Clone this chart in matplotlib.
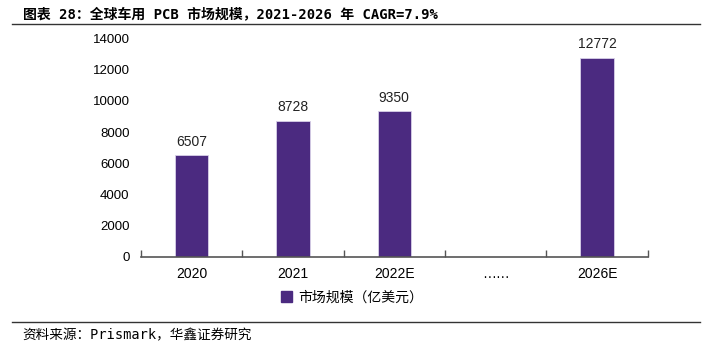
import matplotlib
matplotlib.use("Agg")
import matplotlib.pyplot as plt
from matplotlib.lines import Line2D
from matplotlib.patches import Patch

plt.rcParams['font.family'] = ['Liberation Sans', 'Noto Sans CJK SC', 'DejaVu Sans']

categories = ["2020", "2021", "2022E", "……", "2026E"]
values = [6507, 8728, 9350, None, 12772]
series_name = "市场规模（亿美元）"
title = "图表 28：全球车用 PCB 市场规模，2021-2026 年 CAGR=7.9%"
source = "资料来源：Prismark，华鑫证券研究"

bar_color = "#4b2a80"

fig = plt.figure(figsize=(7.11, 3.47), dpi=100)
ax = fig.add_axes([0.198, 0.260, 0.713, 0.629])

xs = [i for i, v in enumerate(values) if v is not None]
ys = [v for v in values if v is not None]
bars = ax.bar(xs, ys, width=0.33, color=bar_color, edgecolor="#d8d0e8", linewidth=0.6)
for x, y in zip(xs, ys):
    ax.text(x, y + 400, str(y), ha="center", va="bottom", fontsize=10, color="#222222")

ax.set_xlim(-0.5, len(categories) - 0.5)
ax.set_ylim(0, 14000)
ax.set_yticks(range(0, 14001, 2000))
ax.set_xticks(range(len(categories)))
ax.set_xticklabels(categories)
ax.set_xticks([i - 0.5 for i in range(len(categories) + 1)], minor=True)
ax.tick_params(axis="x", which="major", length=0, pad=7, labelsize=10)
ax.tick_params(axis="x", which="minor", length=5, direction="in", color="#555555", width=1)
ax.tick_params(axis="y", length=0, labelsize=9.5, pad=8)
for s in ["top", "right", "left"]:
    ax.spines[s].set_visible(False)
ax.spines["bottom"].set_color("#555555")
ax.spines["bottom"].set_linewidth(1.2)

handle = Patch(facecolor=bar_color, edgecolor=bar_color)
fig.legend([handle], [series_name], loc="center", bbox_to_anchor=(0.495, 0.143),
           frameon=False, fontsize=10, handlelength=0.8, handleheight=0.8,
           handletextpad=0.4, prop={'family': ['Noto Sans CJK SC'], 'size': 10})

fig.text(0.032, 0.958, title, fontsize=10, fontweight="bold", ha="left", va="center",
         family=['DejaVu Sans Mono', 'Noto Sans CJK SC'])
fig.add_artist(Line2D([0.017, 0.985], [0.930, 0.930], color="#333333", linewidth=1.0))
fig.add_artist(Line2D([0.017, 0.985], [0.072, 0.072], color="#333333", linewidth=1.0))
fig.text(0.032, 0.035, source, fontsize=9.8, ha="left", va="center",
         family=['DejaVu Sans Mono', 'Noto Sans CJK SC'])

fig.savefig("out.png", dpi=100)
